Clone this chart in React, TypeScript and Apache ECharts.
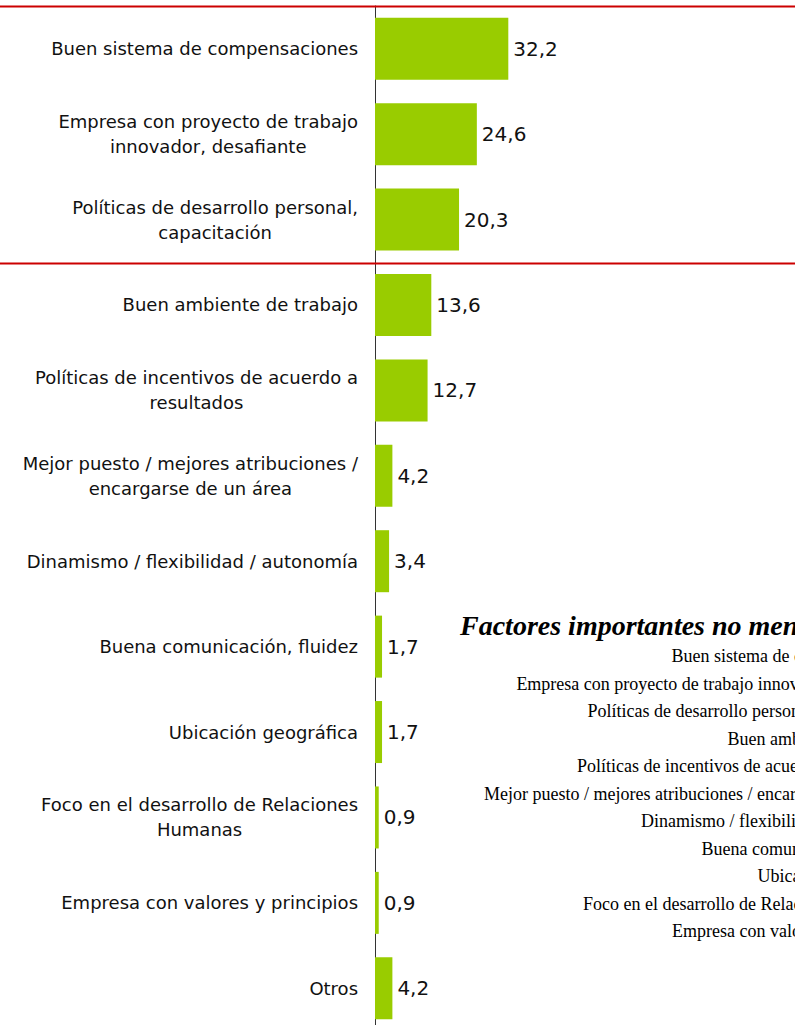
import React, { useEffect, useRef } from "react";
import * as echarts from "echarts";

const categories: string[] = [
  "Buen sistema de compensaciones",
  "Empresa con proyecto de trabajo\ninnovador, desafiante",
  "Políticas de desarrollo personal,\ncapacitación",
  "Buen ambiente de trabajo",
  "Políticas de incentivos de acuerdo a\nresultados",
  "Mejor puesto / mejores atribuciones /\nencargarse de un área",
  "Dinamismo / flexibilidad / autonomía",
  "Buena comunicación, fluidez",
  "Ubicación geográfica",
  "Foco en el desarrollo de Relaciones\nHumanas",
  "Empresa con valores y principios",
  "Otros",
];

const values: number[] = [32.2, 24.6, 20.3, 13.6, 12.7, 4.2, 3.4, 1.7, 1.7, 0.9, 0.9, 4.2];

const otherTitle = "Factores importantes no mencionados";
const otherItems: string[] = [
  "Buen sistema de compensaciones",
  "Empresa con proyecto de trabajo innovador, desafiante",
  "Políticas de desarrollo personal, capacitación",
  "Buen ambiente de trabajo",
  "Políticas de incentivos de acuerdo a resultados",
  "Mejor puesto / mejores atribuciones / encargarse de un área",
  "Dinamismo / flexibilidad / autonomía",
  "Buena comunicación, fluidez",
  "Ubicación geográfica",
  "Foco en el desarrollo de Relaciones Humanas",
  "Empresa con valores y principios",
];

export default function App() {
  const ref = useRef<HTMLDivElement>(null);
  useEffect(() => {
    const chart = echarts.init(ref.current!, null, { renderer: "svg" });
    const listTop = 656;
    const listStep = 27.5;
    const graphic: any[] = [
      {
        type: "line",
        z: 100,
        shape: { x1: 0, y1: 6.5, x2: 795, y2: 6.5 },
        style: { stroke: "#CC0000", lineWidth: 2 },
      },
      {
        type: "line",
        z: 100,
        shape: { x1: 0, y1: 263.5, x2: 795, y2: 263.5 },
        style: { stroke: "#CC0000", lineWidth: 2 },
      },
      {
        type: "text",
        x: 460,
        y: 625,
        style: {
          text: otherTitle,
          font: "italic bold 28px 'Liberation Serif'",
          fill: "#000",
          textAlign: "left",
          textVerticalAlign: "middle",
        },
      },
      ...otherItems.map((t, i) => ({
        type: "text",
        x: 912,
        y: listTop + i * listStep,
        style: {
          text: t,
          font: "18px 'Liberation Serif'",
          fill: "#000",
          textAlign: "right",
          textVerticalAlign: "middle",
        },
      })),
    ];
    chart.setOption({
      animation: false,
      grid: { left: 375, top: 6, width: 414, height: 1025, outerBoundsMode: "none" },
      xAxis: { type: "value", min: 0, max: 100, show: false },
      yAxis: {
        type: "category",
        inverse: true,
        data: categories,
        axisLine: { lineStyle: { color: "#333", width: 1 } },
        axisTick: { length: 5, lineStyle: { color: "#333" } },
        axisLabel: {
          margin: 17,
          formatter: (v: string) =>
            v
              .split("\n")
              .map((l) => `{c|${l}}`)
              .join("\n"),
          rich: {
            c: {
              align: "center",
              fontFamily: "DejaVu Sans",
              fontSize: 18,
              color: "#111",
              lineHeight: 25,
            },
          },
        },
      },
      series: [
        {
          type: "bar",
          data: values,
          barWidth: 62,
          itemStyle: { color: "#99CC00" },
          label: {
            show: true,
            position: "right",
            distance: 5,
            formatter: (p: any) => String(p.value).replace(".", ","),
            fontFamily: "DejaVu Sans",
            fontSize: 20,
            color: "#111",
          },
        },
      ],
      graphic,
    });
    return () => chart.dispose();
  }, []);
  return (
    <div
      ref={ref}
      style={{ position: "absolute", left: 0, top: 0, width: 795, height: 1025 }}
    />
  );
}
